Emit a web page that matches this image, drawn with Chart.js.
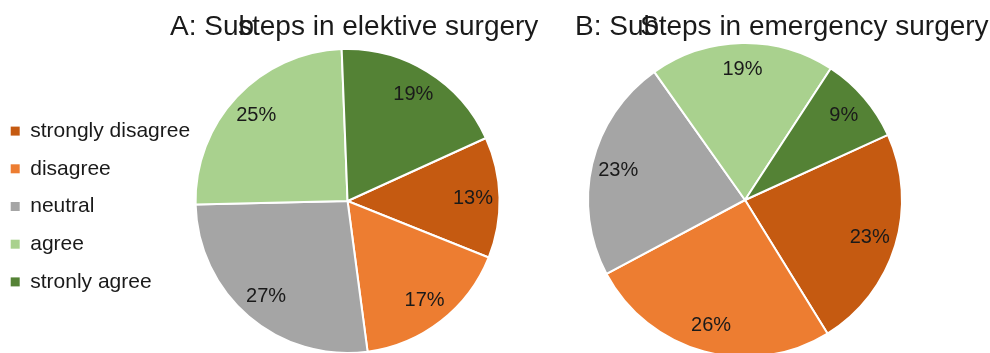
<!DOCTYPE html>
<html lang="en">
<head>
    <meta charset="UTF-8">
    <title>Substeps in elective and emergency surgery</title>
    <script src="https://cdn.jsdelivr.net/npm/chart.js"></script>
    <style>
        body {
            margin: 0;
            background: #fff;
            width: 990px;
            height: 353px;
            overflow: hidden;
            position: relative;
        }
        #chartA {
            position: absolute;
            left: -6px;
            top: 0;
        }
        #chartB {
            position: absolute;
            left: 560px;
            top: 0;
        }
    </style>
</head>
<body>
    <canvas id="chartA" width="560" height="353"></canvas>
    <canvas id="chartB" width="430" height="358"></canvas>

    <script>
        // answer categories and colours
        const categories = ['strongly disagree', 'disagree', 'neutral', 'agree', 'stronly agree'];
        const sliceColors = ['#C55A11', '#ED7D31', '#A5A5A5', '#A9D18E', '#548235'];

        // percentages per category
        const electiveValues = [13, 17, 27, 25, 19];
        const emergencyValues = [23, 26, 23, 19, 9];

        const FONT = '"Liberation Sans", Arial, sans-serif';
        const TEXT = '#1a1a1a';

        // two-part title, the second part is drawn over the end of the first
        const titlePlugin = {
            id: 'splitTitle',
            afterDraw(chart, args, opts) {
                const ctx = chart.ctx;
                ctx.save();
                ctx.font = '28px ' + FONT;
                ctx.fillStyle = TEXT;
                ctx.textBaseline = 'alphabetic';
                ctx.textAlign = 'left';
                opts.parts.forEach(p => ctx.fillText(p.text, p.x, opts.y));
                ctx.restore();
            }
        };

        // percentage labels inside the slices
        const sliceLabels = {
            id: 'sliceLabels',
            afterDatasetsDraw(chart, args, opts) {
                const ctx = chart.ctx;
                const meta = chart.getDatasetMeta(0);
                const data = chart.data.datasets[0].data;
                ctx.save();
                ctx.font = '20px ' + FONT;
                ctx.fillStyle = TEXT;
                ctx.textAlign = 'center';
                ctx.textBaseline = 'middle';
                meta.data.forEach((arc, i) => {
                    const mid = (arc.startAngle + arc.endAngle) / 2;
                    const r = arc.outerRadius * opts.factor;
                    ctx.fillText(data[i] + '%', arc.x + Math.cos(mid) * r, arc.y + Math.sin(mid) * r);
                });
                ctx.restore();
            }
        };

        function pieOptions(extra) {
            return Object.assign({
                responsive: false,
                animation: false,
                rotation: 65.5,
                events: []
            }, extra);
        }

        function pieDataset(values, radius) {
            return {
                data: values,
                backgroundColor: sliceColors,
                borderColor: '#fff',
                borderWidth: 2,
                hoverOffset: 0,
                offset: 0,
                radius: radius,
                clip: false
            };
        }

        new Chart(document.getElementById('chartA'), {
            type: 'pie',
            data: { labels: categories, datasets: [pieDataset(electiveValues, 152)] },
            plugins: [titlePlugin, sliceLabels],
            options: pieOptions({
                layout: { padding: { top: 49, bottom: 0, left: 0, right: 59 } },
                plugins: {
                    tooltip: { enabled: false },
                    legend: {
                        display: true,
                        position: 'left',
                        align: 'center',
                        // blank title nudges the list a little below the pie centre
                        title: { display: true, text: ' ', font: { size: 5, lineHeight: 1 }, padding: 3 },
                        labels: {
                            boxWidth: 9,
                            boxHeight: 9,
                            padding: 16.7,
                            color: TEXT,
                            font: { family: FONT, size: 21 },
                            generateLabels: c => Chart.overrides.pie.plugins.legend.labels
                                .generateLabels(c).map(l => Object.assign(l, { lineWidth: 0 }))
                        }
                    },
                    splitTitle: {
                        y: 35,
                        parts: [
                            { text: 'A: Sub', x: 176 },
                            { text: 'steps in elektive surgery', x: 244 }
                        ]
                    },
                    sliceLabels: { factor: 0.825 }
                }
            })
        });

        new Chart(document.getElementById('chartB'), {
            type: 'pie',
            data: { labels: categories, datasets: [pieDataset(emergencyValues, 157)] },
            plugins: [titlePlugin, sliceLabels],
            options: pieOptions({
                layout: { padding: { top: 42.5, bottom: 0.5, left: 27.5, right: 87.5 } },
                plugins: {
                    tooltip: { enabled: false },
                    legend: { display: false },
                    splitTitle: {
                        y: 35,
                        parts: [
                            { text: 'B: Sub', x: 15 },
                            { text: 'Steps in emergency surgery', x: 80 }
                        ]
                    },
                    sliceLabels: { factor: 0.83 }
                }
            })
        });
    </script>
</body>
</html>
